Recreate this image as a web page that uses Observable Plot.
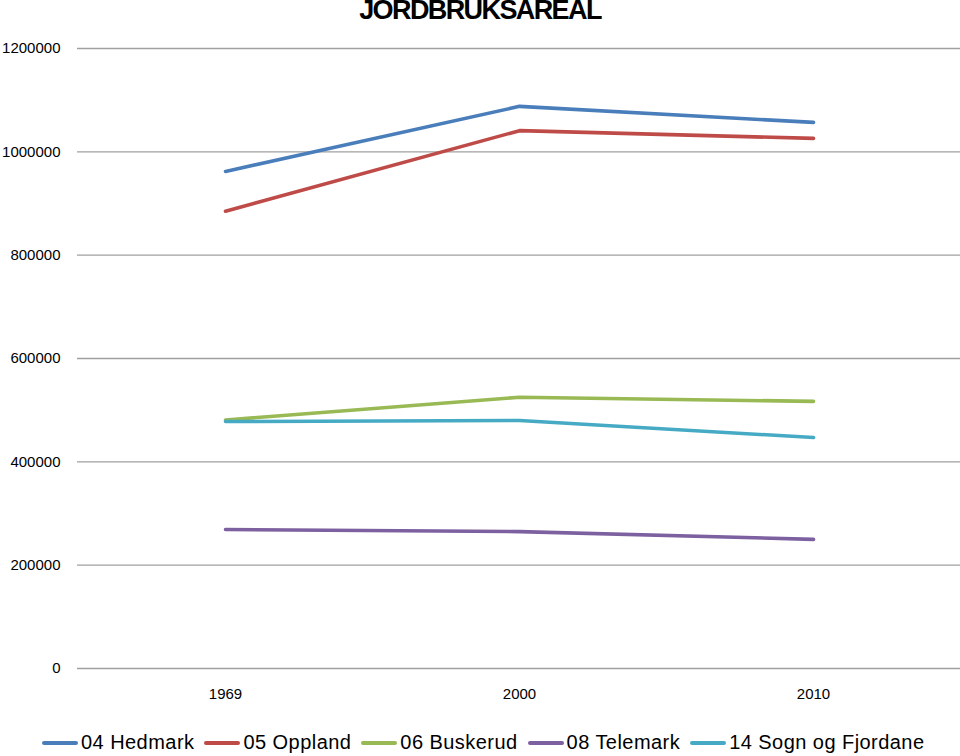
<!DOCTYPE html>
<html>
<head>
<meta charset="utf-8">
<script src="https://cdn.jsdelivr.net/npm/d3@7"></script>
<script src="https://cdn.jsdelivr.net/npm/@observablehq/plot@0.6"></script>
<style>
  html, body { margin: 0; padding: 0; background: #fff; width: 960px; height: 756px; overflow: hidden; }
  #wrap { position: relative; width: 960px; height: 756px; font-family: "Liberation Sans", Arial, sans-serif; }
  #title { position: absolute; top: -5px; left: 0; width: 960px; text-align: center; font-weight: bold; font-size: 27px; letter-spacing: -1.6px; color: #000; line-height: 30px; }
  #chart { position: absolute; top: 0; left: 0; }
  #legend { position: absolute; top: 731px; left: 42px; display: flex; align-items: center; white-space: nowrap; font-size: 20px; color: #000; letter-spacing: 0.45px; }
  .item { display: flex; align-items: center; margin-right: 10px; }
  .sw { width: 36px; height: 4px; margin-right: 3px; border-radius: 2px; }
</style>
</head>
<body>
<div id="wrap">
  <div id="chart"></div>
  <div id="title">JORDBRUKSAREAL</div>
  <div id="legend"></div>
</div>
<script>
const years = ["1969", "2000", "2010"];
const seriesNames = ["04 Hedmark", "05 Oppland", "06 Buskerud", "08 Telemark", "14 Sogn og Fjordane"];
const seriesColors = ["#4A7EBB", "#BE4B48", "#98B954", "#7D60A0", "#46AAC5"];
const hedmark = [962000, 1088000, 1057000];
const oppland = [885000, 1041000, 1026000];
const buskerud = [481000, 525000, 517000];
const telemark = [269000, 265000, 250000];
const sognOgFjordane = [478000, 480000, 447000];
const yTicks = [0, 200000, 400000, 600000, 800000, 1000000, 1200000];

const seriesValues = [hedmark, oppland, buskerud, telemark, sognOgFjordane];
const data = [];
seriesNames.forEach((name, i) => {
  years.forEach((yr, j) => data.push({series: name, year: yr, value: seriesValues[i][j]}));
});

const chart = Plot.plot({
  width: 960,
  height: 712,
  marginTop: 48,
  marginBottom: 44,
  marginLeft: 77,
  marginRight: 0,
  style: {fontFamily: "'Liberation Sans', Arial, sans-serif", fontSize: "15px", color: "#000", background: "#fff"},
  x: {type: "point", domain: years, padding: 0.5, label: null, tickSize: 0, tickPadding: 20},
  y: {domain: [0, 1200000], ticks: yTicks, tickFormat: d => String(d), label: null, tickSize: 0, tickPadding: 17},
  color: {domain: seriesNames, range: seriesColors},
  marks: [
    Plot.ruleY(yTicks, {stroke: "#a0a0a0", strokeWidth: 1.3}),
    Plot.axisY({ticks: yTicks, tickFormat: d => String(d), tickSize: 0, tickPadding: 17, label: null, fontSize: 15}),
    Plot.axisX({tickSize: 0, tickPadding: 20, label: null, fontSize: 15}),
    Plot.line(data, {x: "year", y: "value", z: "series", stroke: "series", strokeWidth: 3.6, strokeLinecap: "round", strokeLinejoin: "round"})
  ]
});
document.getElementById("chart").appendChild(chart);

const legend = document.getElementById("legend");
seriesNames.forEach((name, i) => {
  const item = document.createElement("div");
  item.className = "item";
  const sw = document.createElement("div");
  sw.className = "sw";
  sw.style.background = seriesColors[i];
  const t = document.createElement("span");
  t.textContent = name;
  item.appendChild(sw);
  item.appendChild(t);
  legend.appendChild(item);
});
</script>
</body>
</html>
